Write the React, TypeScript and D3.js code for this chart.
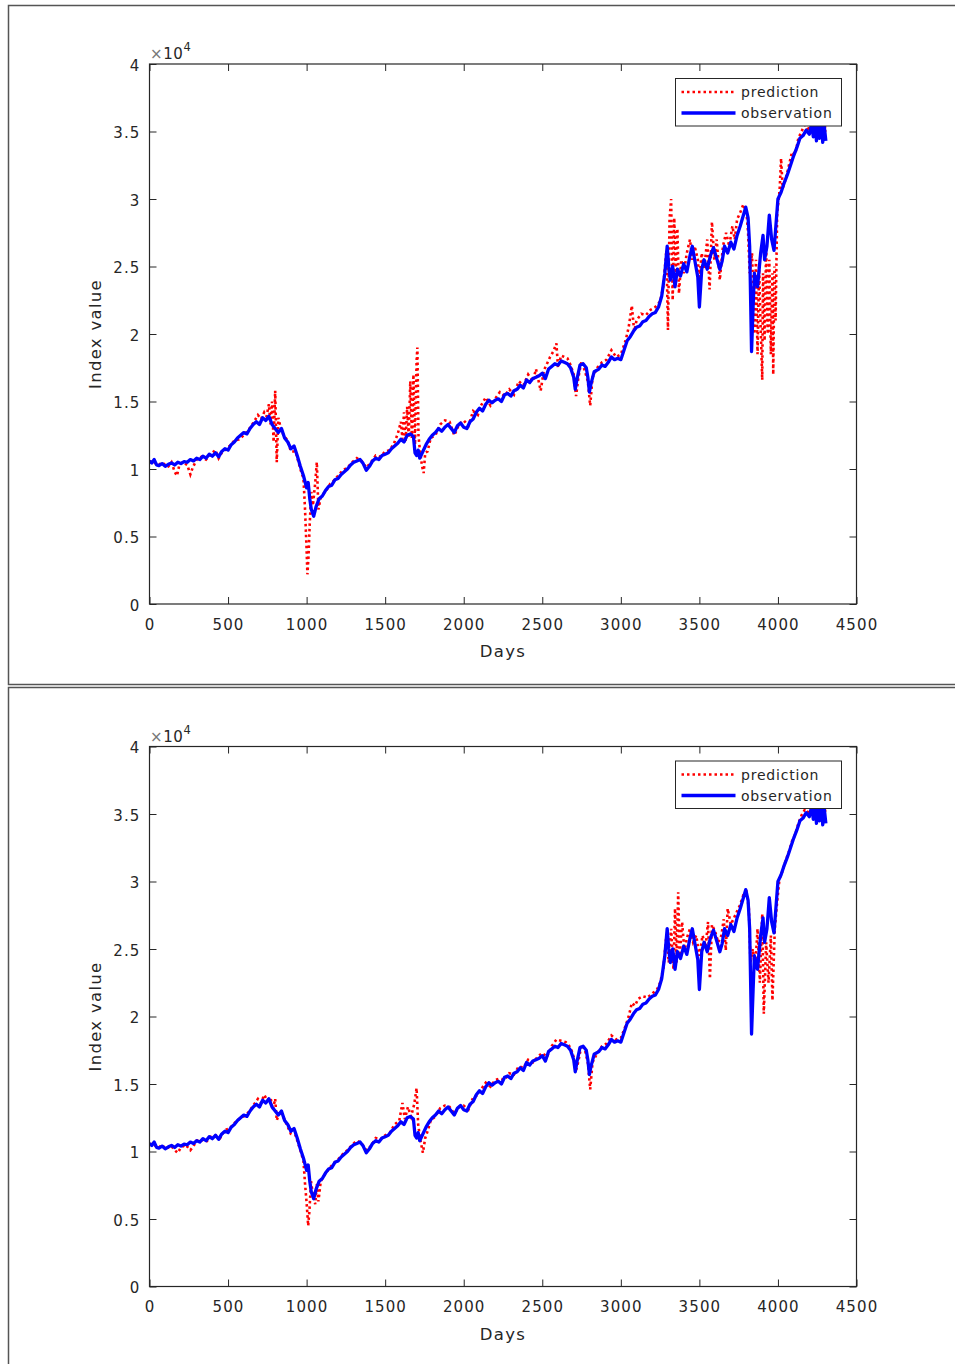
import React, { useEffect, useRef } from 'react';
import * as d3 from 'd3';

const xTicks = [0, 500, 1000, 1500, 2000, 2500, 3000, 3500, 4000, 4500];
const yTicks = [0, 5000, 10000, 15000, 20000, 25000, 30000, 35000, 40000];
const yTickLabels = ['0', '0.5', '1', '1.5', '2', '2.5', '3', '3.5', '4'];
const seriesNames = ['prediction', 'observation'];

// [day, index value]
const observation: [number, number][] = [
  [0, 10600], [15, 10450], [30, 10700], [45, 10300], [60, 10250], [80, 10400], [100, 10200], [120, 10350],
  [140, 10450], [160, 10300], [180, 10500], [200, 10400], [220, 10550], [240, 10500], [260, 10700], [280, 10600],
  [300, 10800], [320, 10700], [340, 10950], [360, 10800], [380, 11100], [400, 10950], [420, 11200], [440, 10900],
  [460, 11300], [480, 11500], [500, 11400], [520, 11800], [540, 12000], [560, 12300], [580, 12500], [600, 12700],
  [620, 12600], [640, 13000], [660, 13300], [680, 13500], [700, 13300], [720, 13800], [740, 13600], [760, 13900],
  [780, 13300], [800, 13000], [820, 12700], [840, 13000], [860, 12300], [880, 12000], [900, 11500], [920, 11700],
  [940, 11000], [960, 10200], [980, 9500], [1000, 8600], [1010, 9000], [1020, 7800], [1030, 7000], [1045, 6500],
  [1060, 7200], [1080, 7800], [1100, 8000], [1120, 8400], [1140, 8700], [1160, 8800], [1180, 9200], [1200, 9300],
  [1220, 9600], [1240, 9800], [1260, 10000], [1280, 10300], [1300, 10500], [1320, 10600], [1340, 10700], [1360, 10400],
  [1380, 9900], [1400, 10200], [1420, 10600], [1440, 10800], [1460, 10700], [1480, 11000], [1500, 11100], [1520, 11200],
  [1540, 11500], [1560, 11700], [1580, 11900], [1600, 12200], [1620, 12000], [1640, 12500], [1660, 12600], [1680, 12400],
  [1690, 11200], [1700, 11000], [1710, 11400], [1720, 10800], [1740, 11300], [1760, 11800], [1780, 12200], [1800, 12500],
  [1820, 12700], [1840, 13000], [1860, 12800], [1880, 13100], [1900, 13300], [1920, 13000], [1940, 12700], [1960, 13200],
  [1980, 13400], [2000, 13100], [2020, 13000], [2040, 13500], [2060, 13700], [2080, 14200], [2100, 14500], [2120, 14300],
  [2140, 14800], [2160, 15100], [2180, 14900], [2200, 15100], [2220, 15200], [2240, 15000], [2260, 15500], [2280, 15600],
  [2300, 15400], [2320, 15800], [2340, 15900], [2360, 16200], [2380, 16000], [2400, 16600], [2420, 16400], [2440, 16700],
  [2460, 16800], [2480, 16900], [2500, 17100], [2520, 16700], [2540, 17400], [2560, 17600], [2580, 17800], [2600, 17700],
  [2620, 18000], [2640, 17900], [2660, 17800], [2680, 17500], [2700, 16800], [2710, 15900], [2720, 16600], [2740, 17700],
  [2760, 17800], [2780, 17500], [2790, 16800], [2800, 15700], [2810, 16300], [2830, 17200], [2860, 17400], [2880, 17700],
  [2900, 17600], [2920, 17900], [2940, 18300], [2960, 18100], [2980, 18200], [3000, 18100], [3020, 18800], [3040, 19500],
  [3060, 19800], [3080, 20200], [3100, 20500], [3120, 20600], [3140, 20900], [3160, 21000], [3180, 21300], [3200, 21500],
  [3220, 21600], [3240, 22000], [3260, 22800], [3280, 24500], [3295, 26500], [3305, 25000], [3315, 24000], [3330, 25000],
  [3345, 23500], [3360, 24800], [3380, 24300], [3400, 25200], [3420, 24600], [3440, 25800], [3455, 26500], [3470, 25500],
  [3490, 24200], [3500, 22000], [3515, 24800], [3530, 25500], [3550, 24800], [3570, 25800], [3590, 26400], [3610, 25600],
  [3630, 24800], [3645, 25400], [3660, 26500], [3680, 26000], [3700, 26800], [3720, 26300], [3740, 27300], [3760, 28000],
  [3780, 28800], [3795, 29400], [3810, 28600], [3820, 26500], [3832, 18700], [3842, 22000], [3850, 24500], [3870, 23500],
  [3890, 26000], [3905, 27300], [3915, 25500], [3930, 26500], [3945, 28800], [3960, 27000], [3975, 26200], [3990, 28500],
  [4000, 30000], [4020, 30500], [4040, 31200], [4060, 31800], [4080, 32500], [4100, 33200], [4120, 33800], [4140, 34500],
  [4160, 34700], [4180, 35100], [4200, 34800], [4215, 35600], [4225, 34600], [4235, 36000], [4245, 34300], [4255, 35800],
  [4265, 34500], [4275, 36200], [4285, 34200], [4295, 35400], [4305, 34300],
];

const predictionTop: [number, number][] = [
  [0, 10500], [20, 10600], [40, 10400], [60, 10300], [80, 10500], [100, 10300], [120, 10200], [140, 10500],
  [160, 9800], [175, 9500], [190, 10300], [210, 10500], [240, 10300], [260, 9600], [275, 10100], [300, 10700],
  [330, 10900], [360, 10700], [390, 11100], [420, 11400], [440, 10800], [460, 11200], [480, 11400], [510, 11700],
  [540, 12100], [570, 12200], [600, 12500], [630, 12900], [660, 13400], [690, 14000], [710, 13700], [730, 14200],
  [745, 13900], [760, 14800], [770, 13300], [780, 15000], [790, 12000], [800, 15800], [810, 10500], [820, 13800],
  [840, 12800], [860, 12400], [880, 12100], [900, 11300], [930, 11300], [960, 10000], [980, 9300], [990, 7000],
  [1000, 4000], [1005, 2200], [1012, 3500], [1020, 6000], [1030, 8300], [1040, 7300], [1055, 9000], [1065, 10500],
  [1075, 7000], [1090, 7900], [1110, 8200], [1130, 8500], [1150, 8900], [1170, 9100], [1200, 9500], [1230, 9900],
  [1260, 10100], [1290, 10500], [1320, 10800], [1350, 10600], [1380, 10100], [1410, 10500], [1440, 11000], [1470, 10900],
  [1500, 11300], [1530, 11400], [1560, 12000], [1580, 12600], [1600, 13500], [1610, 12200], [1620, 14200], [1630, 12000],
  [1640, 14600], [1650, 12300], [1660, 16500], [1670, 12300], [1680, 17000], [1690, 11800], [1700, 18000], [1705, 19000],
  [1712, 12500], [1720, 11500], [1735, 10200], [1745, 9700], [1755, 11200], [1770, 11300], [1790, 12300], [1820, 12500],
  [1850, 13300], [1880, 13600], [1910, 13500], [1940, 12500], [1970, 13300], [2000, 13600], [2030, 13200], [2060, 14300],
  [2090, 14000], [2110, 14700], [2140, 15300], [2170, 14700], [2200, 15200], [2230, 15700], [2260, 15400], [2290, 15900],
  [2320, 15500], [2350, 16500], [2380, 16200], [2410, 17000], [2440, 16500], [2460, 17400], [2490, 15800], [2510, 17300],
  [2530, 17800], [2550, 18300], [2570, 18700], [2590, 19300], [2600, 17500], [2620, 18400], [2640, 18300], [2660, 18200],
  [2680, 17700], [2700, 17000], [2715, 15400], [2730, 16800], [2750, 18000], [2770, 17300], [2790, 16500], [2805, 14700],
  [2820, 16800], [2850, 17500], [2880, 17900], [2910, 18100], [2940, 18800], [2970, 18300], [3000, 18500], [3030, 19500],
  [3050, 20500], [3070, 22100], [3085, 20200], [3100, 21000], [3130, 21500], [3160, 21400], [3190, 21800], [3220, 22000],
  [3250, 22400], [3270, 23500], [3290, 26200], [3300, 20300], [3310, 28500], [3320, 30000], [3330, 22500], [3340, 28600],
  [3350, 24500], [3360, 27800], [3370, 23000], [3385, 25500], [3400, 24500], [3420, 26000], [3440, 27000], [3455, 25500],
  [3470, 26500], [3490, 25500], [3500, 24000], [3515, 26000], [3530, 24800], [3550, 27000], [3565, 23300], [3580, 28300],
  [3595, 25500], [3610, 27000], [3630, 24000], [3650, 26500], [3670, 27500], [3690, 26500], [3710, 28000], [3725, 27000],
  [3740, 28500], [3760, 29000], [3780, 29600], [3800, 29000], [3810, 27500], [3820, 24500], [3835, 26000], [3850, 20000],
  [3860, 25500], [3870, 18500], [3880, 25000], [3890, 20500], [3900, 16600], [3905, 24500], [3915, 19500], [3925, 26500],
  [3935, 20000], [3945, 25500], [3955, 18500], [3965, 24500], [3970, 17000], [3978, 25000], [3985, 21000], [3995, 29000],
  [4010, 30500], [4020, 33000], [4030, 30800], [4050, 31500], [4070, 32500], [4090, 33500], [4110, 33300], [4130, 34500],
  [4150, 35000], [4170, 35500], [4190, 35000], [4210, 35800], [4230, 35500], [4250, 36000], [4270, 35500], [4290, 36000],
  [4305, 35000],
];

const predictionBottom: [number, number][] = [
  [0, 10500], [20, 10600], [40, 10400], [60, 10300], [80, 10500], [100, 10200], [120, 10300], [140, 10400],
  [160, 10100], [180, 9900], [200, 10300], [230, 10500], [260, 10100], [280, 10400], [300, 10800], [330, 10900],
  [360, 10700], [390, 11100], [420, 11200], [450, 11000], [480, 11600], [510, 11700], [540, 12100], [570, 12400],
  [600, 12600], [630, 12900], [660, 13400], [690, 13900], [710, 13600], [730, 14200], [750, 13800], [770, 14000],
  [785, 13100], [800, 13900], [810, 12300], [830, 13000], [850, 12600], [870, 12100], [900, 11300], [930, 11200],
  [960, 10100], [980, 9300], [990, 7600], [1000, 6200], [1010, 4500], [1018, 5600], [1028, 7800], [1040, 6800],
  [1055, 6100], [1065, 7600], [1075, 6300], [1090, 7800], [1110, 8200], [1140, 8700], [1170, 9100], [1200, 9400],
  [1230, 9800], [1260, 10100], [1290, 10500], [1320, 10800], [1350, 10600], [1380, 10100], [1410, 10400], [1440, 11000],
  [1470, 10900], [1500, 11200], [1530, 11400], [1560, 12000], [1590, 12300], [1610, 13600], [1625, 12400], [1645, 13300],
  [1665, 12600], [1685, 13500], [1700, 14700], [1710, 12000], [1725, 10800], [1740, 9900], [1755, 11000], [1770, 11500],
  [1790, 12300], [1820, 12600], [1850, 13200], [1880, 13400], [1910, 13300], [1940, 12800], [1970, 13300], [2000, 13400],
  [2030, 13100], [2060, 14000], [2090, 14200], [2110, 14600], [2140, 15100], [2170, 14800], [2200, 15300], [2230, 15400],
  [2260, 15300], [2290, 15800], [2320, 15700], [2350, 16300], [2380, 16200], [2410, 16800], [2440, 16600], [2470, 17000],
  [2500, 17300], [2530, 17000], [2560, 17800], [2590, 18300], [2620, 18200], [2650, 18100], [2680, 17700], [2700, 17000],
  [2715, 16000], [2730, 16700], [2750, 17900], [2770, 17600], [2790, 16600], [2805, 14600], [2820, 16600], [2850, 17300],
  [2880, 17800], [2910, 18000], [2940, 18600], [2970, 18300], [3000, 18400], [3030, 19300], [3050, 20000], [3070, 21000],
  [3090, 20800], [3110, 21300], [3140, 21500], [3170, 21400], [3200, 21700], [3230, 22000], [3250, 22500], [3270, 23500],
  [3290, 26000], [3305, 24000], [3320, 26500], [3335, 23500], [3345, 28000], [3355, 24000], [3365, 29200], [3375, 24500],
  [3390, 27000], [3405, 24800], [3420, 25800], [3440, 26500], [3460, 25500], [3480, 26000], [3500, 24500], [3520, 26000],
  [3540, 25200], [3555, 27000], [3567, 22800], [3580, 26800], [3600, 26300], [3620, 25500], [3640, 26000], [3655, 27200],
  [3668, 24900], [3680, 28000], [3700, 26800], [3720, 27300], [3740, 27800], [3760, 28300], [3780, 29000], [3800, 29200],
  [3815, 28000], [3825, 24000], [3840, 25000], [3855, 23500], [3870, 26500], [3885, 22500], [3900, 27600], [3910, 20200],
  [3925, 25500], [3940, 22500], [3955, 26000], [3965, 21200], [3980, 26500], [3995, 28500], [4010, 30200], [4030, 30800],
  [4050, 31600], [4070, 32200], [4090, 33000], [4110, 33500], [4130, 34300], [4150, 34900], [4170, 35300], [4190, 35100],
  [4210, 35700], [4230, 35300], [4250, 35900], [4270, 35400], [4290, 35800], [4305, 35000],
];

const panels = [
  { frameTop: 5.5, frameHeight: 679, plotTop: 64, pred: predictionTop },
  { frameTop: 687.5, frameHeight: 700, plotTop: 746.5, pred: predictionBottom },
];

const W = 955;
const H = 1364;
const plotLeft = 149.5;
const plotRight = 856.5;
const plotH = 540;
const textColor = '#262626';
const font = '"DejaVu Sans", sans-serif';

const App = () => {
  const ref = useRef<SVGSVGElement>(null);

  useEffect(() => {
    const svg = d3.select(ref.current);
    svg.selectAll('*').remove();

    svg.append('rect').attr('width', W).attr('height', H).attr('fill', '#fff');

    panels.forEach((p, i) => {
      // outer frame around each figure
      svg.append('rect')
        .attr('x', 8.5).attr('y', p.frameTop)
        .attr('width', 960).attr('height', p.frameHeight)
        .attr('fill', 'none').attr('stroke', '#555').attr('stroke-width', 1.5);

      const x = d3.scaleLinear().domain([0, 4500]).range([plotLeft, plotRight]);
      const y = d3.scaleLinear().domain([0, 40000]).range([p.plotTop + plotH, p.plotTop]);

      const g = svg.append('g');

      const clipId = `clip-${i}`;
      g.append('clipPath').attr('id', clipId)
        .append('rect')
        .attr('x', plotLeft).attr('y', p.plotTop)
        .attr('width', plotRight - plotLeft).attr('height', plotH);

      const line = d3.line<[number, number]>()
        .x(d => x(d[0]))
        .y(d => y(d[1]));

      const lines = g.append('g').attr('clip-path', `url(#${clipId})`);
      lines.append('path')
        .datum(p.pred)
        .attr('fill', 'none')
        .attr('stroke', '#ff0000')
        .attr('stroke-width', 2.6)
        .attr('stroke-dasharray', '2.5,3')
        .attr('d', line);
      lines.append('path')
        .datum(observation)
        .attr('fill', 'none')
        .attr('stroke', '#0000ff')
        .attr('stroke-width', 3.3)
        .attr('stroke-linejoin', 'round')
        .attr('d', line);

      // axes with inward ticks on all four sides
      const styleAxis = (ax: d3.Selection<SVGGElement, unknown, null, undefined>) => {
        ax.select('.domain').remove();
        ax.selectAll('line').attr('stroke', textColor).attr('stroke-width', 1);
        ax.selectAll('text')
          .attr('fill', textColor)
          .style('font-family', font)
          .style('font-size', '15px')
          .style('letter-spacing', '1.1px');
      };

      g.append('g')
        .attr('transform', `translate(0,${p.plotTop + plotH})`)
        .call(d3.axisBottom(x).tickValues(xTicks).tickSize(-7).tickPadding(15).tickFormat(d3.format('d')))
        .call(styleAxis);
      g.append('g')
        .attr('transform', `translate(0,${p.plotTop})`)
        .call(d3.axisTop(x).tickValues(xTicks).tickSize(-7).tickFormat(() => ''))
        .call(styleAxis);
      g.append('g')
        .attr('transform', `translate(${plotLeft},0)`)
        .call(d3.axisLeft(y).tickValues(yTicks).tickSize(-7).tickPadding(9).tickFormat((_, k) => yTickLabels[k]))
        .call(styleAxis)
        .call(ax => ax.selectAll('text').attr('dy', '0.4em'));
      g.append('g')
        .attr('transform', `translate(${plotRight},0)`)
        .call(d3.axisRight(y).tickValues(yTicks).tickSize(-7).tickFormat(() => ''))
        .call(styleAxis);

      g.append('rect')
        .attr('x', plotLeft).attr('y', p.plotTop)
        .attr('width', plotRight - plotLeft).attr('height', plotH)
        .attr('fill', 'none').attr('stroke', textColor).attr('stroke-width', 1.2);

      // exponent
      const exp = g.append('text')
        .attr('x', 150).attr('y', p.plotTop - 5)
        .attr('fill', textColor)
        .style('font-family', font)
        .style('font-size', '15px')
        .style('letter-spacing', '0.6px');
      exp.append('tspan').attr('fill', '#777').text('×');
      exp.append('tspan').text('10');
      exp.append('tspan').attr('dy', -8).style('font-size', '11.5px').text('4');

      g.append('text')
        .attr('x', (plotLeft + plotRight) / 2).attr('y', p.plotTop + plotH + 53)
        .attr('text-anchor', 'middle')
        .attr('fill', textColor)
        .style('font-family', font).style('font-size', '16.5px').style('letter-spacing', '1.3px')
        .text('Days');

      g.append('text')
        .attr('transform', `translate(101,${p.plotTop + plotH / 2}) rotate(-90)`)
        .attr('text-anchor', 'middle')
        .attr('fill', textColor)
        .style('font-family', font).style('font-size', '16.5px').style('letter-spacing', '1.3px')
        .text('Index value');

      // legend
      const lg = g.append('g').attr('transform', `translate(675.5,${p.plotTop + 14.5})`);
      lg.append('rect')
        .attr('width', 166).attr('height', 47.5)
        .attr('fill', '#fff').attr('stroke', textColor).attr('stroke-width', 1);
      const styles = [
        { stroke: '#ff0000', dash: '2.5,3', w: 2.6 },
        { stroke: '#0000ff', dash: null, w: 3.3 },
      ];
      seriesNames.forEach((name, k) => {
        const cy = 13.5 + k * 21;
        lg.append('line')
          .attr('x1', 6).attr('x2', 60).attr('y1', cy).attr('y2', cy)
          .attr('stroke', styles[k].stroke)
          .attr('stroke-width', styles[k].w)
          .attr('stroke-dasharray', styles[k].dash);
        lg.append('text')
          .attr('x', 65.5).attr('y', cy + 5)
          .attr('fill', textColor)
          .style('font-family', font).style('font-size', '14px').style('letter-spacing', '0.8px')
          .text(name);
      });
    });
  }, []);

  return (
    <svg
      ref={ref}
      width={W}
      height={H}
      style={{ position: 'absolute', left: 0, top: 0, display: 'block' }}
    ></svg>
  );
};

export default App;
